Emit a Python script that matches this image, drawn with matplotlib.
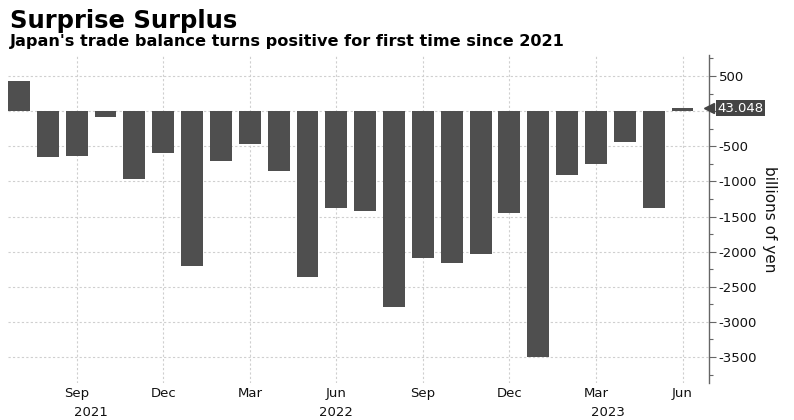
import numpy as np
import matplotlib
matplotlib.use("Agg")
import matplotlib.pyplot as plt
import matplotlib.transforms as mtransforms

# monthly trade balance, Jul 2021 .. Jun 2023 (billions of yen)
months = ["Jul", "Aug", "Sep", "Oct", "Nov", "Dec",
          "Jan", "Feb", "Mar", "Apr", "May", "Jun",
          "Jul", "Aug", "Sep", "Oct", "Nov", "Dec",
          "Jan", "Feb", "Mar", "Apr", "May", "Jun"]
balance = [435, -655, -645, -85, -965, -600,
           -2205, -705, -465, -850, -2360, -1375,
           -1420, -2790, -2095, -2165, -2030, -1445,
           -3500, -905, -755, -435, -1385, 43.048]
tick_idx = [2, 5, 8, 11, 14, 17, 20, 23]
year_labels = ["2021", "2022", "2023"]
year_pos = [2.5, 11, 20.4]
y_ticks = np.arange(-3500, 501, 500)

bar_color = "#4f4f4f"
grid_color = "#cfcfcf"

fig = plt.figure(figsize=(7.94, 4.2), dpi=100)
ax = fig.add_axes([0.0101, 0.0881, 0.8829, 0.781])

x = np.arange(len(balance))
ax.bar(x, balance, width=0.76, color=bar_color, zorder=3)

ax.set_xlim(-0.38, 23.92)
ax.set_ylim(-3870, 800)

# axes styling
for s in ["top", "left", "bottom"]:
    ax.spines[s].set_visible(False)
ax.spines["right"].set_color("#666666")
ax.spines["right"].set_linewidth(1.0)

ax.yaxis.tick_right()
ax.yaxis.set_label_position("right")
ax.set_yticks(y_ticks)
# 0 label is covered by the last-value tag in the original
ax.set_yticklabels(["" if v == 0 else str(v) for v in y_ticks])
ax.set_yticks(np.arange(-3750, 751, 500), minor=True)
ax.tick_params(axis="y", which="major", length=5, width=0.8, color="#666666",
               labelsize=9.5, pad=2, labelcolor="#111111")
ax.tick_params(axis="y", which="minor", length=3, width=0.8, color="#666666")
ax.set_ylabel("billions of yen", rotation=270, labelpad=14, fontsize=11,
              color="#111111")

ax.set_xticks(tick_idx)
ax.set_xticklabels([months[i] for i in tick_idx])
ax.tick_params(axis="x", length=0, labelsize=9.5, pad=3, labelcolor="#111111")

ax.grid(True, which="major", axis="both", color=grid_color,
        linestyle=(0, (2, 2)), linewidth=0.8, zorder=0)

trans = mtransforms.blended_transform_factory(ax.transData, ax.transAxes)
for lab, pos in zip(year_labels, year_pos):
    ax.text(pos, -0.07, lab, transform=trans, ha="center", va="top",
            fontsize=9.5, color="#111111")

# last value tag on the axis
last = balance[-1]
tr2 = mtransforms.blended_transform_factory(ax.transAxes, ax.transData)
ax.plot([1.0], [last], marker="<", markersize=7, color="#444444",
        transform=tr2, clip_on=False, zorder=5)
ax.text(1.012, last, "43.048", transform=tr2, ha="left", va="center",
        fontsize=9.5, color="white", zorder=6,
        bbox=dict(boxstyle="square,pad=0.12", fc="#444444", ec="none"))

fig.text(0.012, 0.978, "Surprise Surplus", fontsize=17.5, fontweight="bold",
         va="top", ha="left", color="black")
fig.text(0.012, 0.918, "Japan's trade balance turns positive for first time since 2021",
         fontsize=11.6, fontweight="bold", va="top", ha="left", color="black")
fig.text(0.855, -0.004, "Bloomberg", fontsize=11, va="top", ha="left",
         color="#999999")

fig.savefig("out.png", dpi=100)
